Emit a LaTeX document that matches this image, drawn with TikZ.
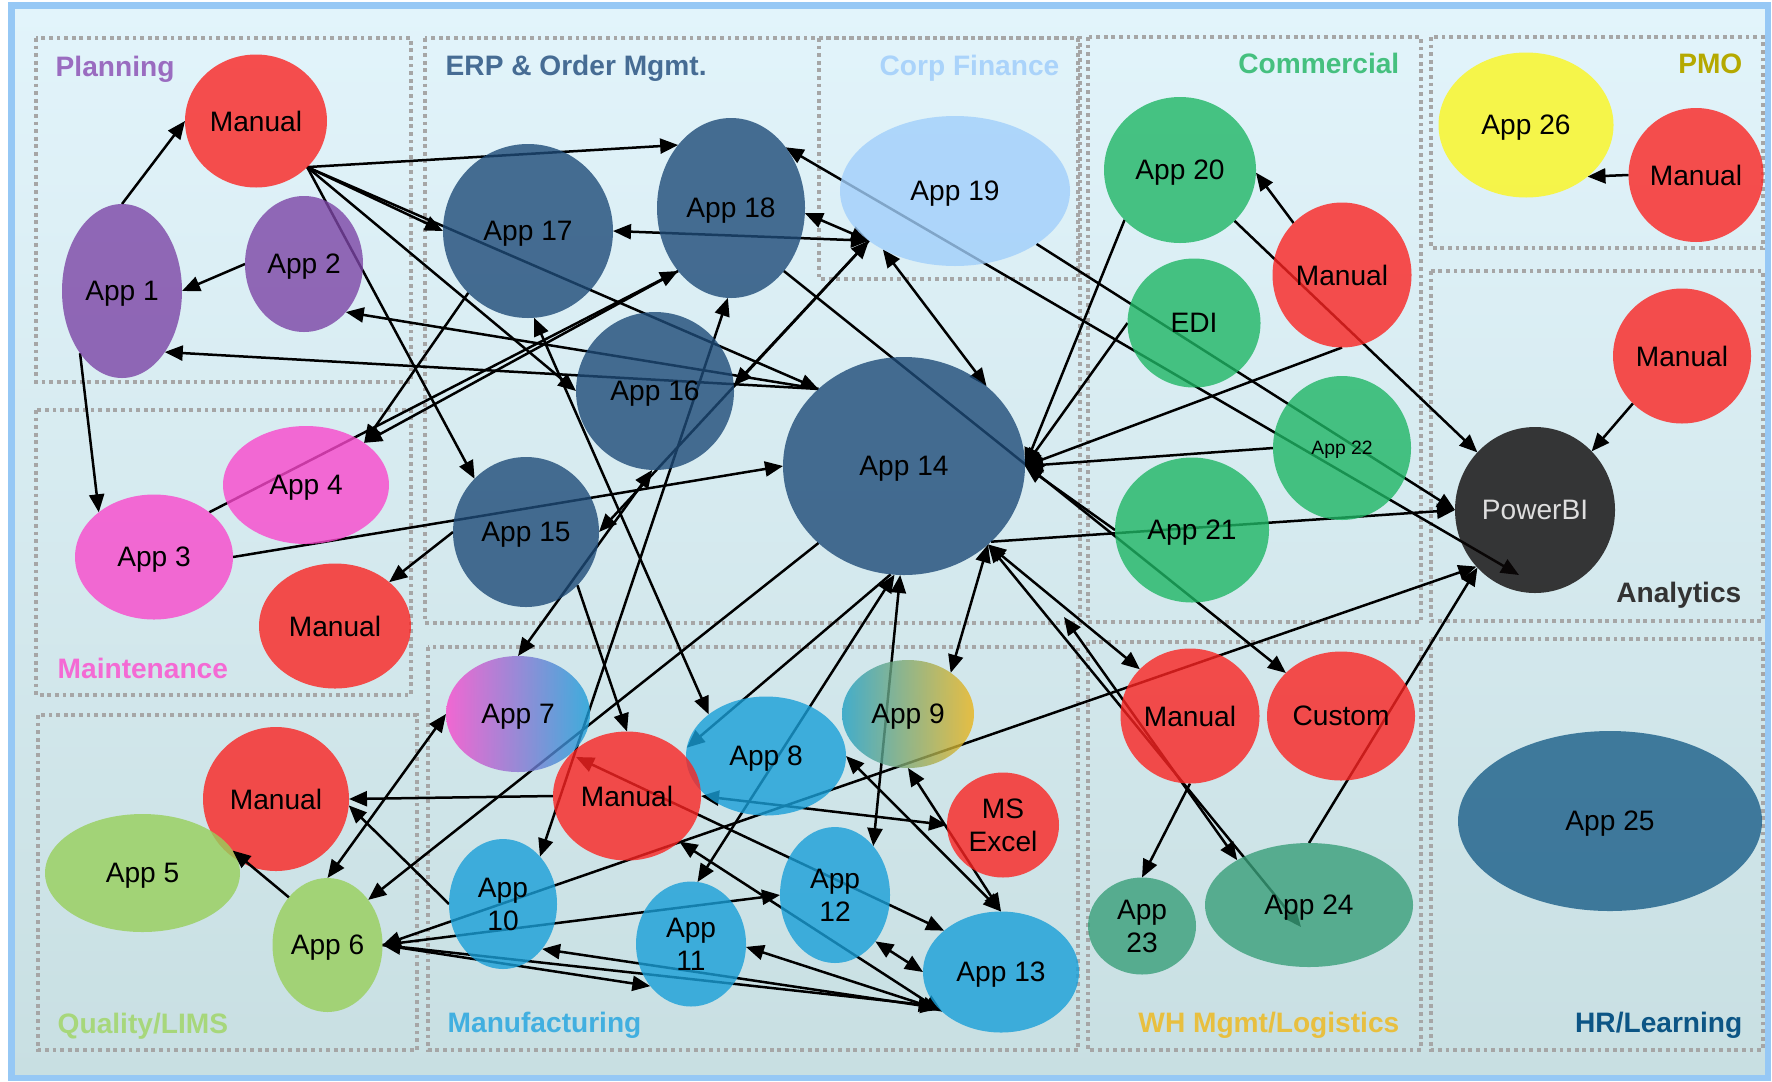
\documentclass[tikz,border=0pt]{standalone}
\usepackage{fontspec}
\setmainfont{Liberation Sans}
\usetikzlibrary{shapes.geometric,arrows.meta}
\pgfdeclarelayer{bg}
\pgfdeclarelayer{links}
\pgfsetlayers{bg,links,main}

% fills (drawn at 80% opacity over the page)
\definecolor{cRed}{RGB}{250,36,34}
\definecolor{cPurple}{RGB}{124,69,166}
\definecolor{cPink}{RGB}{249,72,204}
\definecolor{cLime}{RGB}{152,207,91}
\definecolor{cErp}{RGB}{30,75,120}
\definecolor{cCorp}{RGB}{161,207,251}
\definecolor{cGreen}{RGB}{31,182,101}
\definecolor{cYellow}{RGB}{251,246,31}
\definecolor{cDark}{RGB}{12,8,8}
\definecolor{cMfg}{RGB}{25,159,216}
\definecolor{cWh}{RGB}{57,159,122}
\definecolor{cHr}{RGB}{26,94,136}
\definecolor{cTeal}{RGB}{32,159,195}
\definecolor{cGold}{RGB}{235,180,26}
% group titles
\definecolor{tPlan}{RGB}{154,108,192}
\definecolor{tErp}{RGB}{70,108,148}
\definecolor{tCorp}{RGB}{170,211,250}
\definecolor{tComm}{RGB}{69,192,127}
\definecolor{tPmo}{RGB}{181,169,0}
\definecolor{tAna}{RGB}{51,51,51}
\definecolor{tMaint}{RGB}{244,106,212}
\definecolor{tQual}{RGB}{167,215,123}
\definecolor{tMfg}{RGB}{65,175,224}
\definecolor{tWh}{RGB}{232,191,63}
\definecolor{tHr}{RGB}{12,85,133}
% frame and page
\definecolor{bgTop}{RGB}{226,244,251}
\definecolor{bgBot}{RGB}{200,223,226}
\definecolor{frameBlue}{RGB}{150,200,245}
\definecolor{boxGrey}{RGB}{166,166,166}

\begin{document}
\begin{tikzpicture}[x=0.1mm,y=-0.1mm,
  app/.style={ellipse, inner sep=0pt, outer sep=0pt, fill opacity=0.8, text opacity=1,
    align=center, text depth=0pt, font=\fontsize{8pt}{9.4pt}\selectfont},
  sz/.style 2 args={minimum width=#1*0.2mm, minimum height=#2*0.2mm},
  grp/.style={draw=boxGrey, line width=0.35mm, dash pattern=on 0.38mm off 0.38mm},
  gtitle/.style={font=\fontsize{8pt}{9.6pt}\selectfont\bfseries, inner sep=0pt},
  link/.style={draw=black, line width=0.25mm},
  arrF/.style={link, -{Triangle[length=1.8mm,width=1.5mm]}},
  arrD/.style={link, {Triangle[length=1.8mm,width=1.5mm]}-{Triangle[length=1.8mm,width=1.5mm]}}
]
\useasboundingbox (0,0) rectangle (1772,1081);

% page and frame
\begin{pgfonlayer}{bg}
  \fill[top color=bgTop, bottom color=bgBot] (11.5,5.5) rectangle (1768,1078);
  \draw[frameBlue, line width=0.65mm] (11.5,5.5) rectangle (1768,1078);
  % department boxes
  \draw[grp] (36,38) rectangle (411,382);
  \draw[grp] (36,410) rectangle (411,695);
  \draw[grp] (38,715) rectangle (417,1050);
  \draw[grp] (425,38) rectangle (1080,623);
  \draw[grp] (819,38) rectangle (1078,279);
  \draw[grp] (428,647) rectangle (1078,1050);
  \draw[grp] (1088,37) rectangle (1421,622);
  \draw[grp] (1431,37) rectangle (1763,248);
  \draw[grp] (1431,271) rectangle (1763,621);
  \draw[grp] (1088,642) rectangle (1421,1050);
  \draw[grp] (1431,639) rectangle (1763,1050);
  % department titles
  \node[gtitle, text=tPlan, anchor=base west] (tPlanning) at (55,76) {Planning};
  \node[gtitle, text=tErp, anchor=base west] (tErpOrder) at (445,75) {ERP \& Order Mgmt.};
  \node[gtitle, text=tCorp, anchor=base east] (tCorpFin) at (1060,75) {Corp Finance};
  \node[gtitle, text=tComm, anchor=base east] (tCommercial) at (1400,73) {Commercial};
  \node[gtitle, text=tPmo, anchor=base east] (tPMO) at (1743,73) {PMO};
  \node[gtitle, text=tAna, anchor=base east] (tAnalytics) at (1742,602) {Analytics};
  \node[gtitle, text=tMaint, anchor=base west] (tMaintenance) at (57,678) {Maintenance};
  \node[gtitle, text=tQual, anchor=base west] (tQuality) at (57,1033) {Quality/LIMS};
  \node[gtitle, text=tMfg, anchor=base west] (tManufacturing) at (447,1032) {Manufacturing};
  \node[gtitle, text=tWh, anchor=base east] (tWarehouse) at (1400,1032) {WH Mgmt/Logistics};
  \node[gtitle, text=tHr, anchor=base east] (tHR) at (1743,1032) {HR/Learning};
\end{pgfonlayer}

% Planning
\node[app, fill=cRed, sz={71}{66.5}] (manP) at (256,121) {Manual};
\node[app, fill=cPurple, sz={60}{87}] (app1) at (122,291) {App 1};
\node[app, fill=cPurple, sz={59}{68}] (app2) at (304,264) {App 2};
% Maintenance
\node[app, fill=cPink, sz={79}{62.5}] (app3) at (154,557) {App 3};
\node[app, fill=cPink, sz={83}{59}] (app4) at (306,485) {App 4};
\node[app, fill=cRed, sz={76}{62.5}] (manM) at (335,626) {Manual};
% Quality/LIMS
\node[app, fill=cRed, sz={73}{72}] (manQ) at (276,799) {Manual};
\node[app, fill=cLime, sz={97.5}{59}] (app5) at (142.5,873) {App 5};
\node[app, fill=cLime, sz={55}{67}] (app6) at (327.5,945) {App 6};
% ERP & Order Mgmt.
\node[app, fill=cErp, sz={85}{87}] (app17) at (528,231) {App 17};
\node[app, fill=cErp, sz={74}{90}] (app18) at (731,208) {App 18};
\node[app, fill=cErp, sz={79}{79}] (app16) at (655,391) {App 16};
\node[app, fill=cErp, sz={73}{75}] (app15) at (526,532) {App 15};
\node[app, fill=cErp, sz={121}{109}] (app14) at (904,466) {App 14};
% Corp Finance
\node[app, fill=cCorp, sz={115}{75}] (app19) at (955,191) {App 19};
% Manufacturing
\node[app, left color=cPink, right color=cMfg, sz={72}{58}] (app7) at (518,714) {App 7};
\node[app, left color=cTeal, right color=cGold, sz={66}{54}] (app9) at (908,714) {App 9};
\node[app, fill=cMfg, sz={80}{59.5}] (app8) at (766,756) {App 8};
\node[app, fill=cRed, sz={74}{64.5}] (manF) at (627,796) {Manual};
\node[app, fill=cRed, sz={56}{52.5}] (excel) at (1003,825) {MS\\Excel};
\node[app, fill=cMfg, sz={54}{65}] (app10) at (503,904) {App\\10};
\node[app, fill=cMfg, sz={55}{62.5}] (app11) at (691,944) {App\\11};
\node[app, fill=cMfg, sz={55}{68}] (app12) at (835,895) {App\\12};
\node[app, fill=cMfg, sz={78}{60.5}] (app13) at (1001,972) {App 13};
% Commercial
\node[app, fill=cGreen, sz={76}{73}] (app20) at (1180,170) {App 20};
\node[app, fill=cRed, sz={69.5}{72.5}] (manC) at (1342,275) {Manual};
\node[app, fill=cGreen, sz={66.5}{64.5}] (edi) at (1194,323) {EDI};
\node[app, fill=cGreen, sz={69}{72}, font=\fontsize{5.5pt}{6.6pt}\selectfont] (app22) at (1342,448) {App 22};
\node[app, fill=cGreen, sz={77}{72.5}] (app21) at (1192,530) {App 21};
% PMO
\node[app, fill=cYellow, sz={87.5}{72.5}] (app26) at (1526,125) {App 26};
\node[app, fill=cRed, sz={67.5}{67}] (manPMO) at (1696,175) {Manual};
% Analytics
\node[app, fill=cRed, sz={69}{67.5}] (manA) at (1682,356) {Manual};
\node[app, fill=cDark, sz={80}{83}, text=black!13] (pbi) at (1535,510) {PowerBI};
% WH Mgmt/Logistics
\node[app, fill=cRed, sz={69.5}{67.5}] (manW) at (1190,716) {Manual};
\node[app, fill=cRed, sz={74}{64.5}] (custom) at (1341,716) {Custom};
\node[app, fill=cWh, sz={54}{48.5}] (app23) at (1142,926) {App\\23};
\node[app, fill=cWh, sz={104}{62}] (app24) at (1309,905) {App 24};
% HR/Learning
\node[app, fill=cHr, sz={152}{90}] (app25) at (1610,821) {App 25};

% loose connector ends
\coordinate (looseA) at (1064,617);
\coordinate (in24) at (1301,927);
\coordinate (inPbi) at (1519,575);
\coordinate (inManF) at (576,757);

% this one is drawn above the ellipses
\draw[arrF] (app6.129) -- (app5.14);

\begin{pgfonlayer}{links}
  % Planning
  \draw[arrF] (app1.90) -- (manP.180);
  \draw[arrF] (app2.180) -- (app1.0);
  \draw[arrF] (app1.-124) -- (app3.141);
  \draw[arrF] (manP.-42) -- (app18.130);
  \draw[arrF] (manP.-42) -- (app17.180);
  \draw[arrF] (manP.-42) -- (app14.138);
  \draw[arrF] (manP.-42) -- (app16.180);
  \draw[arrF] (manP.-42) -- (app15.134);
  \draw[arrF] (app14.138) -- (app2.-49);
  \draw[arrF] (app14.138) -- (app1.-55);
  % Maintenance
  \draw[arrF] (app3.39) -- (app18.-130);
  \draw[arrF] (app3.0) -- (app14.180);
  \draw[arrF] (app17.-134) -- (app4.36);
  \draw[arrF] (app18.-130) -- (app4.36);
  \draw[arrF] (app15.180) -- (manM.39);
  % ERP and Corp Finance
  \draw[arrD] (app17.-86) -- (app8.144);
  \draw[arrD] (app17.0) -- (app19.-150);
  \draw[arrD] (app19.-150) -- (app18.-4);
  \draw[arrD] (app19.-150) -- (app15.0);
  \draw[arrF] (app19.-150) -- (app16.4);
  \draw[arrD] (app7.90) -- (app16.-92);
  \draw[arrD] (app10.52) -- (app18.-92);
  \draw[arrD] (app19.-141) -- (app14.44);
  \draw[arrF] (app14.-138) -- (app6.48);
  \draw[arrF] (app15.-46) -- (manF.90);
  % Manufacturing and Quality
  \draw[arrD] (app13.144) -- (inManF);
  \draw[arrF] (manF.180) -- (manQ.0);
  \draw[arrF] (app10.180) -- (manQ.-5);
  \draw[arrD] (app6.90) -- (app7.180);
  \draw[arrD] (app6.0) -- (pbi.-136);
  \draw[arrF] (app6.0) -- (app12.180);
  \draw[arrF] (app6.0) -- (app11.-134);
  \draw[arrD] (app6.0) -- (app13.-152);
  \draw[arrD] (app10.-49) -- (app13.-150);
  \draw[arrD] (app11.-3) -- (app13.-148);
  \draw[arrD] (manF.-41) -- (app13.-146);
  \draw[arrD] (app12.-49) -- (app13.180);
  \draw[arrD] (app8.0) -- (app13.90);
  \draw[arrD] (app9.-90) -- (app13.90);
  \draw[arrD] (manF.0) -- (excel.180);
  \draw[arrD] (app14.-92) -- (app12.52);
  \draw[arrD] (app14.-95) -- (app11.84);
  \draw[arrF] (app14.-97) -- (app8.174);
  \draw[arrD] (app14.-43) -- (app9.44);
  % WH Mgmt/Logistics
  \draw[arrD] (app14.-43) -- (manW.137);
  \draw[arrD] (app14.-43) -- (in24);
  \draw[arrD] (looseA) -- (app24.148);
  \draw[arrF] (manW.-90) -- (app23.90);
  \draw[arrF] (app24.90) -- (pbi.-135);
  % Commercial
  \draw[arrF] (app14.-41) -- (pbi.180);
  \draw[arrF] (app20.-138) -- (app14.0);
  \draw[arrF] (edi.180) -- (app14.0);
  \draw[arrF] (manC.-90) -- (app14.0);
  \draw[arrF] (app22.180) -- (app14.0);
  \draw[arrF] (app21.180) -- (app14.0);
  \draw[arrF] (app18.-50) -- (custom.142);
  \draw[arrF] (manC.133) -- (app20.-2);
  \draw[arrF] (app20.-43) -- (pbi.135);
  \draw[arrF] (app19.-33) -- (pbi.180);
  \draw[arrD] (app18.48) -- (inPbi);
  % Analytics and PMO
  \draw[arrF] (manA.-136) -- (pbi.46);
  \draw[arrF] (manPMO.180) -- (app26.-40);
\end{pgfonlayer}
\end{tikzpicture}
\end{document}
